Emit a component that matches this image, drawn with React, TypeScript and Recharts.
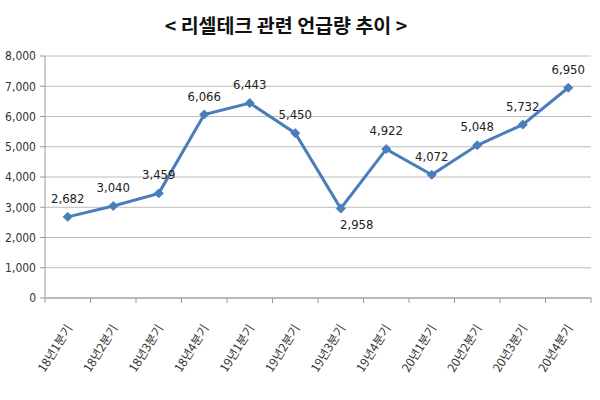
import React from 'react';
import { LineChart, Line, XAxis, YAxis, CartesianGrid, LabelList } from 'recharts';

const categories = ['18년1분기', '18년2분기', '18년3분기', '18년4분기', '19년1분기', '19년2분기', '19년3분기', '19년4분기', '20년1분기', '20년2분기', '20년3분기', '20년4분기'];
const values = [2682, 3040, 3459, 6066, 6443, 5450, 2958, 4922, 4072, 5048, 5732, 6950];
const yTicks = [0, 1000, 2000, 3000, 4000, 5000, 6000, 7000, 8000];
const title = '< 리셀테크 관련 언급량 추이 >';

const data = categories.map((c, i) => ({ name: c, value: values[i] }));

const NUM_FONT = '"DejaVu Sans", sans-serif';
const KR_FONT = '"Noto Sans CJK KR", sans-serif';
const BAND = 45.5;
const fmt = (v: number) => v.toLocaleString('en-US');

const XTick = (props: any) => {
  const { x, y, payload, index } = props;
  const n = categories.length;
  return (
    <g>
      <line x1={x - BAND / 2} y1={y - 8} x2={x - BAND / 2} y2={y - 3} stroke="#999" />
      {index === n - 1 && <line x1={x + BAND / 2} y1={y - 8} x2={x + BAND / 2} y2={y - 3} stroke="#999" />}
      <g transform={`translate(${x + 5},${y + 22})`}>
        <text x={0} y={0} transform="rotate(-58)" textAnchor="end" fontFamily={KR_FONT} fontSize={12} fill="#333">
          {payload.value}
        </text>
      </g>
    </g>
  );
};

const Diamond = (props: any) => {
  const { cx, cy } = props;
  if (cx == null || cy == null) return null;
  const r = 4.5;
  return <polygon points={`${cx},${cy - r} ${cx + r},${cy} ${cx},${cy + r} ${cx - r},${cy}`} fill="#4A7EBB" stroke="#4A7EBB" />;
};

const ValueLabel = (props: any) => {
  const { x, y, value, index } = props;
  const below = index === 6;
  return (
    <text
      x={below ? x + 16 : x}
      y={below ? y + 20 : y - 14}
      textAnchor="middle"
      fontFamily={NUM_FONT}
      fontStretch="condensed"
      fontSize={13}
      fill="#222"
    >
      {fmt(value)}
    </text>
  );
};

export default function App() {
  return (
    <div style={{ position: 'absolute', left: 0, top: 0, width: 600, height: 400, background: '#fff' }}>
      <div
        style={{
          position: 'absolute',
          left: 0,
          top: 11,
          width: 572,
          textAlign: 'center',
          fontFamily: KR_FONT,
          fontWeight: 700,
          fontSize: 19.5,
          lineHeight: '28px',
          color: '#111',
        }}
      >
        {title}
      </div>
      <LineChart width={600} height={400} data={data} margin={{ top: 56, right: 9, bottom: 0, left: 0 }}>
        <CartesianGrid vertical={false} stroke="#bcbcbc" strokeWidth={1} />
        <YAxis
          width={45}
          domain={[0, 8000]}
          ticks={yTicks}
          interval={0}
          tickFormatter={fmt}
          axisLine={{ stroke: '#999' }}
          tickLine={{ stroke: '#999' }}
          tickSize={5}
          tickMargin={4}
          tick={{ fontFamily: NUM_FONT, fontStretch: 'condensed', fontSize: 12, fill: '#333' }}
        />
        <XAxis
          dataKey="name"
          interval={0}
          height={102}
          padding={{ left: BAND / 2, right: BAND / 2 }}
          axisLine={{ stroke: '#999' }}
          tickLine={false}
          tick={<XTick />}
        />
        <Line
          type="linear"
          dataKey="value"
          stroke="#4A7EBB"
          strokeWidth={3}
          dot={<Diamond />}
          activeDot={false}
          isAnimationActive={false}
        >
          <LabelList dataKey="value" content={<ValueLabel />} />
        </Line>
      </LineChart>
    </div>
  );
}
